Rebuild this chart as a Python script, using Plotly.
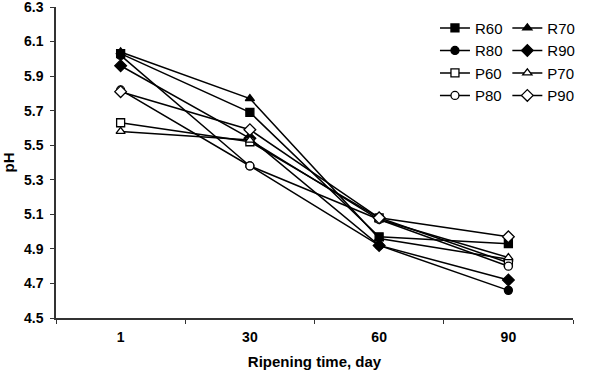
import plotly.graph_objects as go

days = ["1", "30", "60", "90"]
y_ticks = [4.5, 4.7, 4.9, 5.1, 5.3, 5.5, 5.7, 5.9, 6.1, 6.3]

R60 = [6.03, 5.69, 4.97, 4.93]
R70 = [6.04, 5.77, 4.96, 4.84]
R80 = [6.02, 5.38, 4.92, 4.66]
R90 = [5.96, 5.54, 4.92, 4.72]
P60 = [5.63, 5.52, 5.08, 4.82]
P70 = [5.58, 5.53, 5.07, 4.85]
P80 = [5.82, 5.38, 5.07, 4.80]
P90 = [5.81, 5.59, 5.08, 4.97]

series = [
    ("R60", R60, "square", True, "legend"),
    ("R70", R70, "triangle-up", True, "legend2"),
    ("R80", R80, "circle", True, "legend"),
    ("R90", R90, "diamond", True, "legend2"),
    ("P60", P60, "square", False, "legend"),
    ("P70", P70, "triangle-up", False, "legend2"),
    ("P80", P80, "circle", False, "legend"),
    ("P90", P90, "diamond", False, "legend2"),
]

fig = go.Figure()
for name, vals, sym, filled, leg in series:
    size = 8 if sym != "diamond" else 9
    fig.add_trace(go.Scatter(
        x=days, y=vals, name=name, mode="lines+markers",
        line=dict(color="black", width=1.5),
        marker=dict(symbol=sym, size=size,
                    color="black" if filled else "white",
                    line=dict(color="black", width=1.3)),
        legend=leg,
    ))

fig.update_layout(
    width=600, height=370,
    margin=dict(l=56, r=27, t=7, b=52),
    paper_bgcolor="white", plot_bgcolor="white",
    font=dict(family="Liberation Sans, Arial", color="black"),
    xaxis=dict(
        type="category", range=[-0.5, 3.5], automargin=False,
        showline=True, linecolor="#333", linewidth=1.5,
        ticks="outside", tickson="boundaries", ticklen=4, tickcolor="#333",
        showgrid=False, zeroline=False, ticklabelstandoff=5,
        tickfont=dict(family="Liberation Sans, Arial", size=14, color="black", weight="bold"),
        title=dict(text="<b>Ripening time, day</b>", font=dict(size=15, color="black"), standoff=16),
    ),
    yaxis=dict(
        range=[4.5, 6.3], tickvals=y_ticks, ticktext=[f"{v:.1f}" for v in y_ticks],
        automargin=False, ticklabeloverflow="allow",
        showline=True, linecolor="#333", linewidth=1.5,
        ticks="outside", ticklen=4, tickcolor="#333",
        showgrid=False, zeroline=False, ticklabelstandoff=4,
        tickfont=dict(family="Liberation Sans, Arial", size=14, color="black", weight="bold"),
        title=dict(text="<b>pH</b>", font=dict(size=15, color="black"), standoff=8),
    ),
    legend=dict(x=0.733, y=0.985, xanchor="left", yanchor="top",
                font=dict(size=15, color="black"), bgcolor="rgba(0,0,0,0)",
                itemwidth=30, tracegroupgap=0),
    legend2=dict(x=0.873, y=0.985, xanchor="left", yanchor="top",
                 font=dict(size=15, color="black"), bgcolor="rgba(0,0,0,0)",
                 itemwidth=30, tracegroupgap=0),
)

fig.write_html("out.html", config={"displayModeBar": False},
               post_script="document.body.style.margin='0';")
